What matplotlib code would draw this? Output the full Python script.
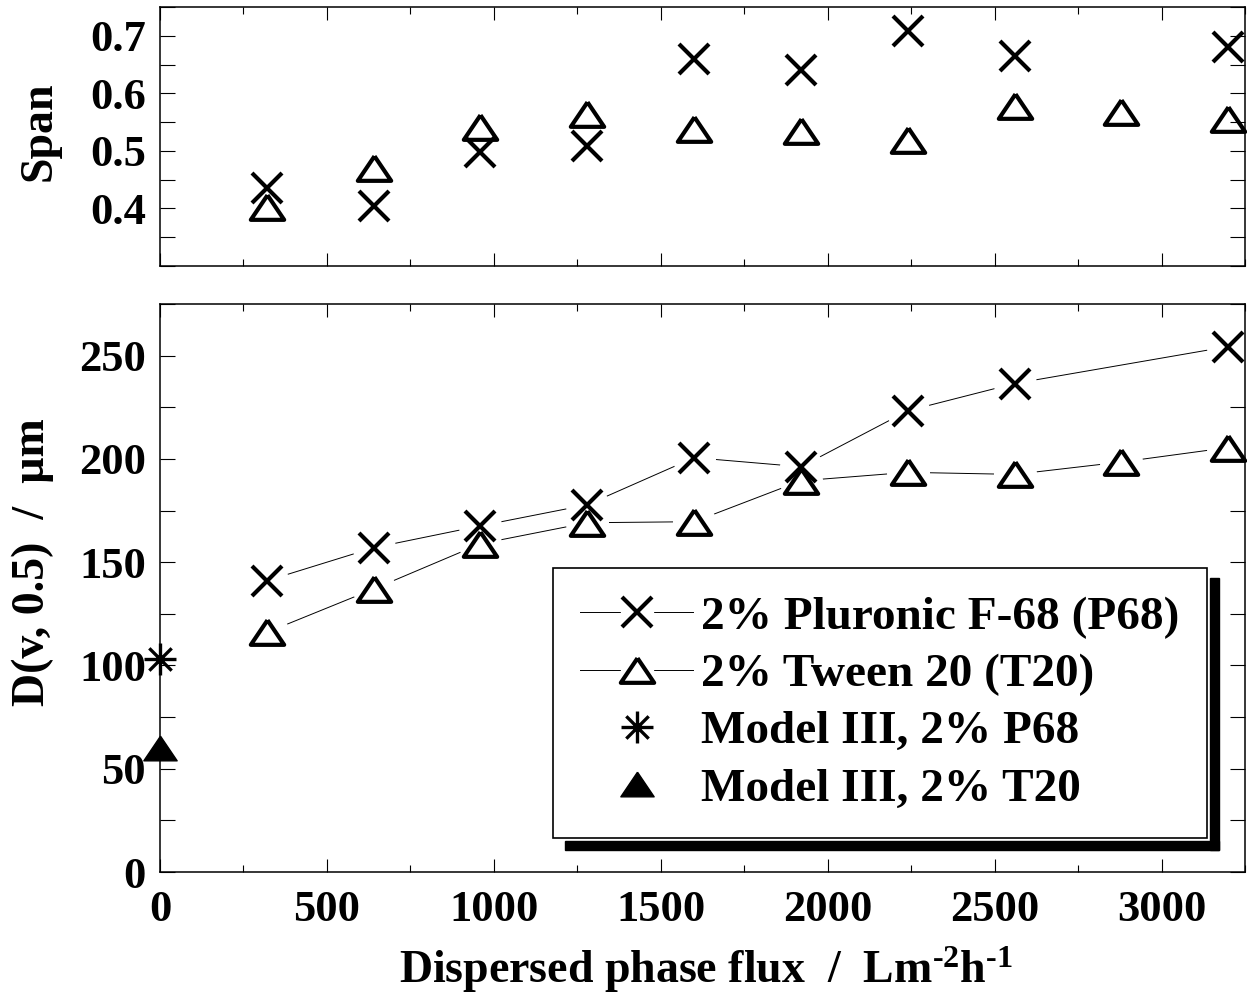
import matplotlib
matplotlib.use("Agg")
import matplotlib.pyplot as plt
from matplotlib.lines import Line2D
from matplotlib.path import Path
from matplotlib.patches import Rectangle
from matplotlib.legend_handler import HandlerTuple
from matplotlib.ticker import MultipleLocator

plt.rcParams['font.family'] = ['Liberation Serif', 'DejaVu Serif']
plt.rcParams['font.weight'] = 'bold'
plt.rcParams['mathtext.fontset'] = 'custom'
plt.rcParams['mathtext.rm'] = 'Liberation Serif:bold'
plt.rcParams['mathtext.it'] = 'Liberation Serif:bold'
plt.rcParams['mathtext.bf'] = 'Liberation Serif:bold'

# data
flux = [320, 640, 960, 1280, 1600, 1920, 2240, 2560, 2880, 3200]
p68_flux = [320, 640, 960, 1280, 1600, 1920, 2240, 2560, 3200]
p68_span = [0.436, 0.404, 0.498, 0.508, 0.660, 0.641, 0.709, 0.665, 0.680]
t20_span = [0.402, 0.470, 0.542, 0.564, 0.538, 0.535, 0.519, 0.578, 0.568, 0.556]
p68_d50 = [141.0, 157.0, 167.6, 177.8, 200.6, 196.2, 223.3, 236.5, 254.4]
t20_d50 = [116.0, 137.0, 158.9, 169.1, 169.6, 189.4, 193.5, 192.5, 198.5, 205.5]
model_flux = [0]
model_p68 = [103]
model_t20 = [60]

labels = ['2% Pluronic F-68 (P68)', '2% Tween 20 (T20)',
          'Model III, 2% P68', 'Model III, 2% T20']

tri = [(0, 0.74), (-1, -0.74), (1, -0.74), (0, 0.74)]
star = Path([(-1, 0), (1, 0), (0, -1), (0, 1), (-0.7, -0.7), (0.7, 0.7),
             (-0.7, 0.7), (0.7, -0.7)],
            [Path.MOVETO, Path.LINETO] * 4)

MS_X = 21
MS_T = 24
MEW = 3

fig = plt.figure(figsize=(12.47, 10.02), dpi=100)
ax1 = fig.add_axes([160/1247, 1-266/1002, 1085/1247, 259/1002])
ax2 = fig.add_axes([160/1247, 1-872/1002, 1085/1247, 568/1002])

for ax in (ax1, ax2):
    ax.set_xlim(0, 3250)
    ax.xaxis.set_major_locator(MultipleLocator(500))
    ax.xaxis.set_minor_locator(MultipleLocator(250))
    ax.tick_params(which='both', direction='in', top=True, right=True,
                   width=0.8, labelsize=32)
    ax.tick_params(axis='x', which='major', length=9.5, pad=13)
    ax.tick_params(axis='x', which='minor', length=5)
    ax.tick_params(axis='y', which='both', length=10.5, pad=10)
    for s in ax.spines.values():
        s.set_linewidth(1.1)

# top: span
ax1.set_ylim(0.3, 0.75)
ax1.yaxis.set_major_locator(MultipleLocator(0.1))
ax1.yaxis.set_minor_locator(MultipleLocator(0.05))
ax1.set_yticks([0.4, 0.5, 0.6, 0.7])
ax1.set_yticklabels(['0.4', '0.5', '0.6', '0.7'])
ax1.tick_params(axis='x', labelbottom=False)
ax1.plot(p68_flux, p68_span, ls='none', marker='x', ms=MS_X, mew=MEW,
         color='black', clip_on=False, zorder=3)
ax1.plot(flux, t20_span, ls='none', marker=tri, ms=MS_T, mew=MEW,
         mfc='none', mec='black', clip_on=False, zorder=3)

# bottom: D(v,0.5)
ax2.set_ylim(0, 275)
ax2.yaxis.set_major_locator(MultipleLocator(50))
ax2.yaxis.set_minor_locator(MultipleLocator(25))
ax2.plot(p68_flux, p68_d50, color='black', lw=0.7, zorder=2)
ax2.plot(flux, t20_d50, color='black', lw=0.7, zorder=2)
# white discs cut the lines short of each symbol
ax2.plot(p68_flux, p68_d50, ls='none', marker='o', ms=31, mew=0,
         color='white', zorder=2.1)
ax2.plot(flux, t20_d50, ls='none', marker='o', ms=31, mew=0,
         color='white', zorder=2.1)
ax2.plot(p68_flux, p68_d50, ls='none', marker='x', ms=MS_X, mew=MEW,
         color='black', clip_on=False, zorder=3)
ax2.plot(flux, t20_d50, ls='none', marker=tri, ms=MS_T, mew=MEW,
         mfc='none', mec='black', clip_on=False, zorder=3)
ax2.plot(model_flux, model_p68, ls='none', marker=star, ms=23, mew=2.4,
         color='black', clip_on=False, zorder=3)
ax2.plot(model_flux, model_t20, ls='none', marker=tri, ms=MS_T, mew=1,
         color='black', clip_on=False, zorder=3)

# legend with gapped lines
ln = Line2D([], [], color='black', lw=0.7)
gap = Line2D([], [], ls='none', marker='o', ms=24, mew=0, color='white')
h1 = (ln, gap, Line2D([], [], ls='none', marker='x', ms=MS_X, mew=MEW, color='black'))
h2 = (ln, gap, Line2D([], [], ls='none', marker=tri, ms=MS_T, mew=MEW,
                      mfc='none', mec='black'))
h3 = Line2D([], [], ls='none', marker=star, ms=23, mew=2.4, color='black')
h4 = Line2D([], [], ls='none', marker=tri, ms=MS_T, mew=1, color='black')
leg = ax2.legend([h1, h2, h3, h4], labels, loc='lower right',
                 bbox_to_anchor=(0.965, 0.06), borderaxespad=0,
                 fontsize=34, handlelength=2.4, handletextpad=0.17,
                 labelspacing=0.3, borderpad=0.58, fancybox=False,
                 framealpha=1, edgecolor='black',
                 handler_map={tuple: HandlerTuple(ndivide=1, pad=0)})
leg.get_frame().set_linewidth(1.2)
leg.set_zorder(6)

# offset black shadow drawn as two bars
fig.canvas.draw()
bb = leg.get_window_extent()
inv = fig.transFigure.inverted()
def bar(x0, y0, x1, y1):
    (a, b), (c, d) = inv.transform([(x0, y0), (x1, y1)])
    fig.patches.append(Rectangle((a, b), c - a, d - b, transform=fig.transFigure,
                                 color='black', zorder=5))
bar(bb.x0 + 12, bb.y0 - 12, bb.x1 + 12, bb.y0 - 3)
bar(bb.x1 + 3, bb.y0 - 12, bb.x1 + 12, bb.y1 - 10)

fig.text(40/1247, 1-131/1002, 'Span', rotation=90, ha='center', va='center',
         fontsize=33)
fig.text(33/1247, 1-562/1002, 'D(v, 0.5)  /  µm', rotation=90, ha='center',
         va='center', fontsize=33)
fig.text(706/1247, 1-970/1002,
         r'Dispersed phase flux  /  Lm$^{\text{-2}}$h$^{\text{-1}}$',
         ha='center', va='center', fontsize=33)

fig.savefig('out.png', dpi=100)
